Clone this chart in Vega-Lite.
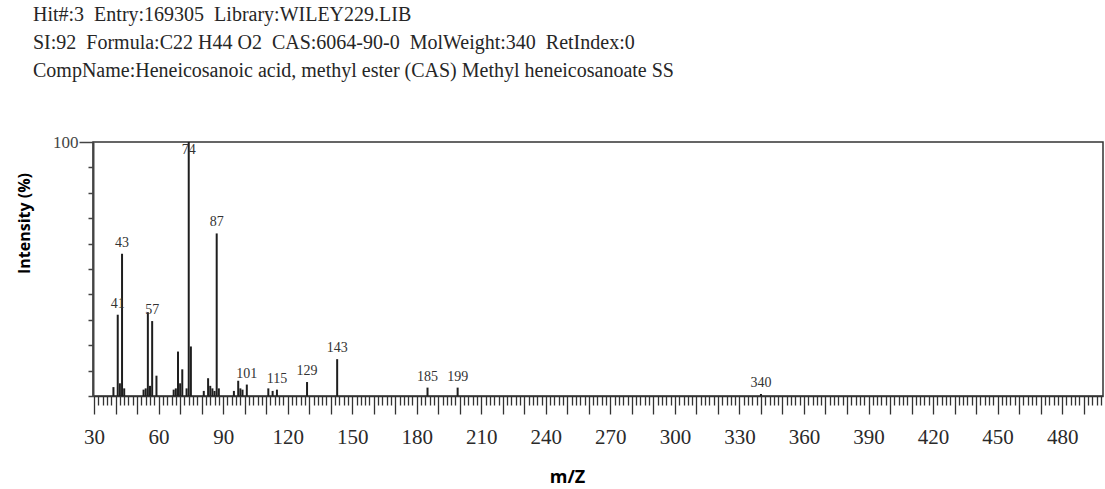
{
  "$schema": "https://vega.github.io/schema/vega-lite/v6.json",
  "width": 1010,
  "height": 254,
  "autosize": "none",
  "padding": {"left": 93, "top": 142, "right": 2, "bottom": 93},
  "background": "white",
  "config": {"view": {"stroke": "#333333", "strokeWidth": 1.5}},
  "title": {
    "text": [
      "Hit#:3\u00a0 Entry:169305\u00a0 Library:WILEY229.LIB",
      "SI:92\u00a0 Formula:C22 H44 O2\u00a0 CAS:6064-90-0\u00a0 MolWeight:340\u00a0 RetIndex:0",
      "CompName:Heneicosanoic acid, methyl ester (CAS) Methyl heneicosanoate SS"
    ],
    "anchor": "start",
    "frame": "group",
    "dx": -60,
    "offset": 52,
    "font": "Liberation Serif",
    "fontSize": 20,
    "fontWeight": "normal",
    "lineHeight": 28,
    "color": "#262626"
  },
  "data": {
    "values": [
      {"mz": 39, "intensity": 3.5},
      {"mz": 41, "intensity": 32, "label": "41"},
      {"mz": 42, "intensity": 5},
      {"mz": 43, "intensity": 56, "label": "43"},
      {"mz": 44, "intensity": 3},
      {"mz": 53, "intensity": 2.5},
      {"mz": 54, "intensity": 3},
      {"mz": 55, "intensity": 33},
      {"mz": 56, "intensity": 4},
      {"mz": 57, "intensity": 29.5, "label": "57"},
      {"mz": 59, "intensity": 8},
      {"mz": 67, "intensity": 2.5},
      {"mz": 68, "intensity": 3},
      {"mz": 69, "intensity": 17.5},
      {"mz": 70, "intensity": 5},
      {"mz": 71, "intensity": 10.5},
      {"mz": 73, "intensity": 3},
      {"mz": 74, "intensity": 100, "label": "74"},
      {"mz": 75, "intensity": 19.5},
      {"mz": 81, "intensity": 2},
      {"mz": 83, "intensity": 7},
      {"mz": 84, "intensity": 4},
      {"mz": 85, "intensity": 3},
      {"mz": 86, "intensity": 2},
      {"mz": 87, "intensity": 64, "label": "87"},
      {"mz": 88, "intensity": 3},
      {"mz": 95, "intensity": 2},
      {"mz": 97, "intensity": 6},
      {"mz": 98, "intensity": 3},
      {"mz": 99, "intensity": 2.5},
      {"mz": 101, "intensity": 4.5, "label": "101"},
      {"mz": 111, "intensity": 3},
      {"mz": 113, "intensity": 2},
      {"mz": 115, "intensity": 2.5, "label": "115"},
      {"mz": 129, "intensity": 5.5, "label": "129"},
      {"mz": 143, "intensity": 14.5, "label": "143"},
      {"mz": 185, "intensity": 3.3, "label": "185"},
      {"mz": 199, "intensity": 3.3, "label": "199"},
      {"mz": 340, "intensity": 0.8, "label": "340"}
    ]
  },
  "encoding": {
    "x": {
      "field": "mz",
      "type": "quantitative",
      "scale": {"domain": [29.5, 499], "nice": false, "zero": false},
      "axis": {
        "title": "m/Z",
        "titleFont": "Open Sans",
        "titleFontWeight": "bold",
        "titleFontSize": 18,
        "titleColor": "#000000",
        "titleX": 474,
        "titleY": 81,
        "titleAnchor": null,
        "titleAlign": "center",
        "titleBaseline": "middle",
        "values": [30,32,34,36,38,40,42,44,46,48,50,52,54,56,58,60,62,64,66,68,70,72,74,76,78,80,82,84,86,88,90,92,94,96,98,100,102,104,106,108,110,112,114,116,118,120,122,124,126,128,130,132,134,136,138,140,142,144,146,148,150,152,154,156,158,160,162,164,166,168,170,172,174,176,178,180,182,184,186,188,190,192,194,196,198,200,202,204,206,208,210,212,214,216,218,220,222,224,226,228,230,232,234,236,238,240,242,244,246,248,250,252,254,256,258,260,262,264,266,268,270,272,274,276,278,280,282,284,286,288,290,292,294,296,298,300,302,304,306,308,310,312,314,316,318,320,322,324,326,328,330,332,334,336,338,340,342,344,346,348,350,352,354,356,358,360,362,364,366,368,370,372,374,376,378,380,382,384,386,388,390,392,394,396,398,400,402,404,406,408,410,412,414,416,418,420,422,424,426,428,430,432,434,436,438,440,442,444,446,448,450,452,454,456,458,460,462,464,466,468,470,472,474,476,478,480,482,484,486,488,490,492,494,496,498],
        "format": "d",
        "labelExpr": "datum.value % 30 === 0 ? datum.label : ''",
        "labelOverlap": false,
        "labelFlush": false,
        "labelBound": false,
        "labelFont": "Liberation Serif",
        "labelFontSize": 21,
        "labelColor": "#2a2a2a",
        "labelPadding": 12,
        "tickSize": {"condition": {"test": "datum.value % 10 === 0", "value": 18}, "value": 9},
        "tickColor": "#333333",
        "tickWidth": 1.3,
        "domainColor": "#333333",
        "domainWidth": 1.5,
        "grid": false
      }
    },
    "y": {
      "field": "intensity",
      "type": "quantitative",
      "scale": {"domain": [0, 100], "nice": false},
      "axis": {
        "title": "Intensity (%)",
        "titleFont": "Open Sans",
        "titleFontWeight": "bold",
        "titleFontSize": 16,
        "titleColor": "#000000",
        "titleAngle": -90,
        "titleX": -69,
        "titleY": 81,
        "titleAnchor": null,
        "titleAlign": "center",
        "titleBaseline": "middle",
        "values": [0,10,20,30,40,50,60,70,80,90,100],
        "labelExpr": "datum.value === 100 ? '100' : ''",
        "labelFont": "Liberation Serif",
        "labelFontSize": 17,
        "labelColor": "#444444",
        "labelPadding": 1,
        "labelOverlap": false,
        "tickSize": {"condition": {"test": "datum.value === 100", "value": 14}, "value": 5},
        "tickColor": "#444444",
        "tickWidth": 1.5,
        "domainColor": "#444444",
        "domainWidth": 2,
        "grid": false
      }
    }
  },
  "layer": [
    {
      "mark": {"type": "rule", "color": "#1e1e1e", "strokeWidth": 2},
      "encoding": {"y2": {"datum": 0}}
    },
    {
      "transform": [
        {"filter": "isValid(datum.label)"},
        {"calculate": "min(datum.intensity, 92.5)", "as": "labelY"}
      ],
      "mark": {"type": "text", "font": "Liberation Serif", "fontSize": 14, "color": "#333333", "baseline": "middle", "dy": -11},
      "encoding": {
        "y": {"field": "labelY", "type": "quantitative"},
        "text": {"field": "label"}
      }
    }
  ]
}
